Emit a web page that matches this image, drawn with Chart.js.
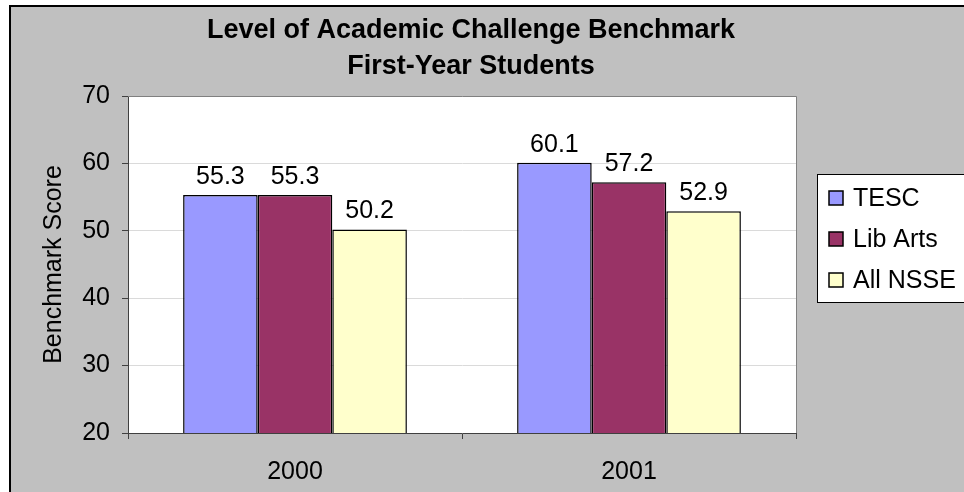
<!DOCTYPE html>
<html>
<head>
<meta charset="utf-8">
<script src="https://cdn.jsdelivr.net/npm/chart.js@4.4.1/dist/chart.umd.min.js"></script>
<style>
  html, body { margin: 0; padding: 0; background: #ffffff; }
  #wrap { width: 964px; height: 492px; position: relative; }
</style>
</head>
<body>
<div id="wrap"><canvas id="benchChart" width="964" height="492"></canvas></div>
<script>
// data
const years = ['2000', '2001'];
const tesc = [55.3, 60.1];
const libArts = [55.3, 57.2];
const allNsse = [50.2, 52.9];
const seriesNames = ['TESC', 'Lib Arts', 'All NSSE'];
const yTicks = [20, 30, 40, 50, 60, 70];
const titleLines = ['Level of Academic Challenge Benchmark', 'First-Year Students'];

const FONT = 'Arial, "Liberation Sans", sans-serif';

// gray backdrop, frame, title, value labels and legend box
const backdrop = {
  id: 'backdrop',
  beforeDraw(chart) {
    const c = chart.ctx;
    c.save();
    c.fillStyle = '#ffffff';
    c.fillRect(0, 0, chart.width, chart.height);
    c.fillStyle = '#c0c0c0';
    c.fillRect(10, 6, chart.width, chart.height);
    c.strokeStyle = '#000000';
    c.lineWidth = 2;
    c.strokeRect(10, 6, chart.width + 10, chart.height + 10);
    // plot area white
    const a = chart.chartArea;
    c.fillStyle = '#ffffff';
    c.fillRect(a.left, a.top, a.right - a.left, a.bottom - a.top);

    // title, centred on the whole chart object (which runs past the right edge)
    c.fillStyle = '#000000';
    c.font = 'bold 27px ' + FONT;
    c.textAlign = 'center';
    c.textBaseline = 'alphabetic';
    titleLines.forEach((t, i) => c.fillText(t, 471, 37.5 + i * 36.7));
    c.restore();
  },
  afterDatasetsDraw(chart) {
    const c = chart.ctx;
    const a = chart.chartArea;
    c.save();
    // frame of plot area
    c.strokeStyle = '#808080';
    c.lineWidth = 1;
    c.beginPath();
    c.moveTo(a.left, a.top + 0.5);
    c.lineTo(a.right + 0.5, a.top + 0.5);
    c.lineTo(a.right + 0.5, a.bottom);
    c.stroke();

    // value labels above bars
    c.fillStyle = '#000000';
    c.font = '25px ' + FONT;
    c.textAlign = 'center';
    c.textBaseline = 'alphabetic';
    chart.data.datasets.forEach((ds, i) => {
      const meta = chart.getDatasetMeta(i);
      meta.data.forEach((bar, j) => {
        c.fillText(ds.data[j].toFixed(1), bar.x, bar.y - 11);
      });
    });

    // legend box
    const lx = 817, ly = 174, lh = 128;
    c.fillStyle = '#ffffff';
    c.fillRect(lx, ly, chart.width, lh);
    c.strokeStyle = '#000000';
    c.lineWidth = 1;
    c.strokeRect(lx + 0.5, ly + 0.5, chart.width, lh);
    c.textAlign = 'left';
    c.textBaseline = 'middle';
    chart.data.datasets.forEach((ds, i) => {
      const cy = 198 + i * 41;
      c.fillStyle = ds.backgroundColor;
      c.fillRect(829, cy - 7, 14, 14);
      c.strokeStyle = '#000000';
      c.lineWidth = 1.5;
      c.strokeRect(829, cy - 7, 14, 14);
      c.fillStyle = '#000000';
      c.fillText(ds.label, 853, cy + 1);
    });
    c.restore();
  }
};

const ctx = document.getElementById('benchChart').getContext('2d');
const benchChart = new Chart(ctx, {
  type: 'bar',
  data: {
    labels: years,
    datasets: [
      { label: seriesNames[0], data: tesc, backgroundColor: '#9999ff' },
      { label: seriesNames[1], data: libArts, backgroundColor: '#993366' },
      { label: seriesNames[2], data: allNsse, backgroundColor: '#ffffcc' }
    ].map(ds => Object.assign(ds, {
      borderColor: '#000000',
      borderWidth: 1.5,
      categoryPercentage: 0.67,
      barPercentage: 1.0
    }))
  },
  options: {
    responsive: false,
    animation: false,
    devicePixelRatio: 1,
    layout: { padding: { left: 0, right: 168, top: 96, bottom: 0 } },
    plugins: {
      legend: { display: false },
      tooltip: { enabled: false },
      title: { display: false }
    },
    scales: {
      x: {
        offset: true,
        grid: {
          offset: true,
          drawOnChartArea: false,
          tickLength: 6,
          tickColor: '#404040'
        },
        border: { color: '#404040', width: 1 },
        ticks: { color: '#000000', font: { family: FONT, size: 25 }, padding: 18 },
        afterFit(scale) { scale.height = 59; }
      },
      y: {
        min: yTicks[0],
        max: yTicks[yTicks.length - 1],
        afterBuildTicks(scale) { scale.ticks = yTicks.map(v => ({ value: v })); },
        grid: { color: '#dadada', tickLength: 6, tickColor: '#404040' },
        border: { color: '#404040', width: 1 },
        ticks: { color: '#000000', font: { family: FONT, size: 25 }, padding: 12 },
        title: {
          display: true,
          text: 'Benchmark Score',
          color: '#000000',
          font: { family: FONT, size: 25 },
          padding: { top: 39, bottom: 0 }
        },
        afterFit(scale) { scale.width = 128; }
      }
    }
  },
  plugins: [backdrop]
});
</script>
</body>
</html>
